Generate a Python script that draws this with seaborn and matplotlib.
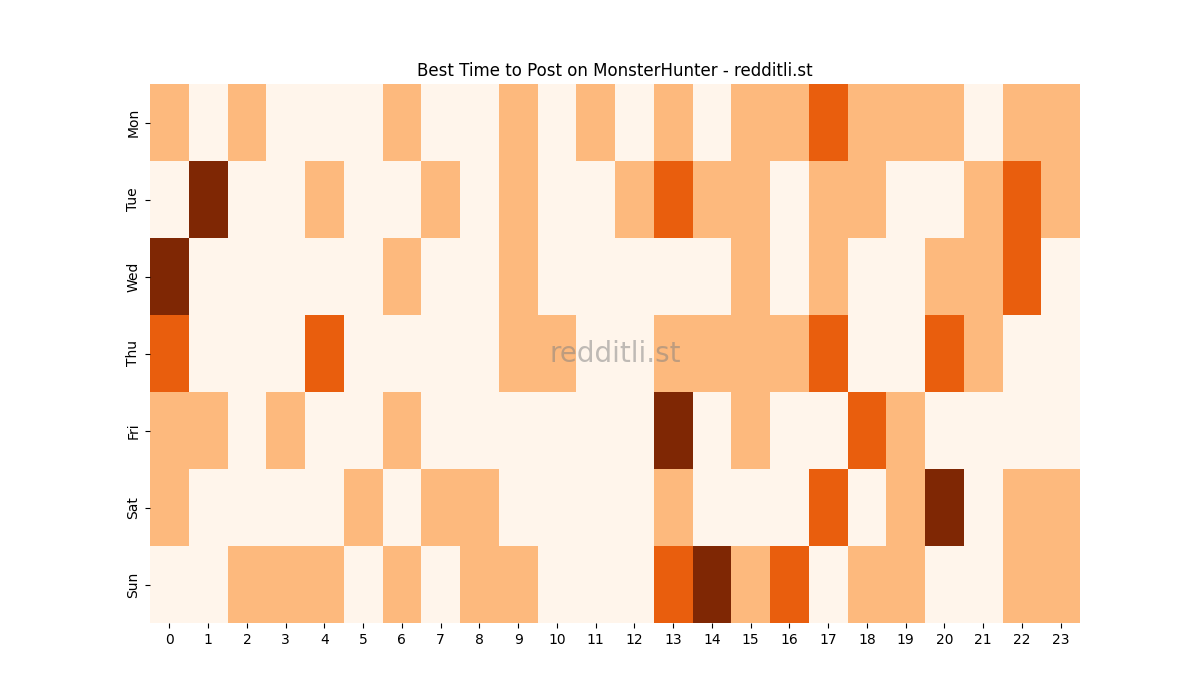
import matplotlib
matplotlib.use("Agg")
import matplotlib.pyplot as plt
import numpy as np
import pandas as pd
import seaborn as sns

# dias y horas
days = ["Mon", "Tue", "Wed", "Thu", "Fri", "Sat", "Sun"]
hours = list(range(24))

# nivel de actividad por hora (0-3)
mon = [1, 0, 1, 0, 0, 0, 1, 0, 0, 1, 0, 1, 0, 1, 0, 1, 1, 2, 1, 1, 1, 0, 1, 1]
tue = [0, 3, 0, 0, 1, 0, 0, 1, 0, 1, 0, 0, 1, 2, 1, 1, 0, 1, 1, 0, 0, 1, 2, 1]
wed = [3, 0, 0, 0, 0, 0, 1, 0, 0, 1, 0, 0, 0, 0, 0, 1, 0, 1, 0, 0, 1, 1, 2, 0]
thu = [2, 0, 0, 0, 2, 0, 0, 0, 0, 1, 1, 0, 0, 1, 1, 1, 1, 2, 0, 0, 2, 1, 0, 0]
fri = [1, 1, 0, 1, 0, 0, 1, 0, 0, 0, 0, 0, 0, 3, 0, 1, 0, 0, 2, 1, 0, 0, 0, 0]
sat = [1, 0, 0, 0, 0, 1, 0, 1, 1, 0, 0, 0, 0, 1, 0, 0, 0, 2, 0, 1, 3, 0, 1, 1]
sun = [0, 0, 1, 1, 1, 0, 1, 0, 1, 1, 0, 0, 0, 2, 3, 1, 2, 0, 1, 1, 0, 0, 1, 1]

data = pd.DataFrame([mon, tue, wed, thu, fri, sat, sun], index=days, columns=hours)

fig, ax = plt.subplots(figsize=(12, 7), dpi=100)
sns.heatmap(data, cmap="Oranges", vmin=0, vmax=3, cbar=False, ax=ax)
ax.set_title("Best Time to Post on MonsterHunter - redditli.st")
ax.set_xlabel("")
ax.set_ylabel("")

# marca de agua
ax.text(0.5, 0.5, "redditli.st", transform=ax.transAxes, ha="center", va="center",
        fontsize=20, color="grey", alpha=0.5)

plt.savefig("out.png", dpi=100)
